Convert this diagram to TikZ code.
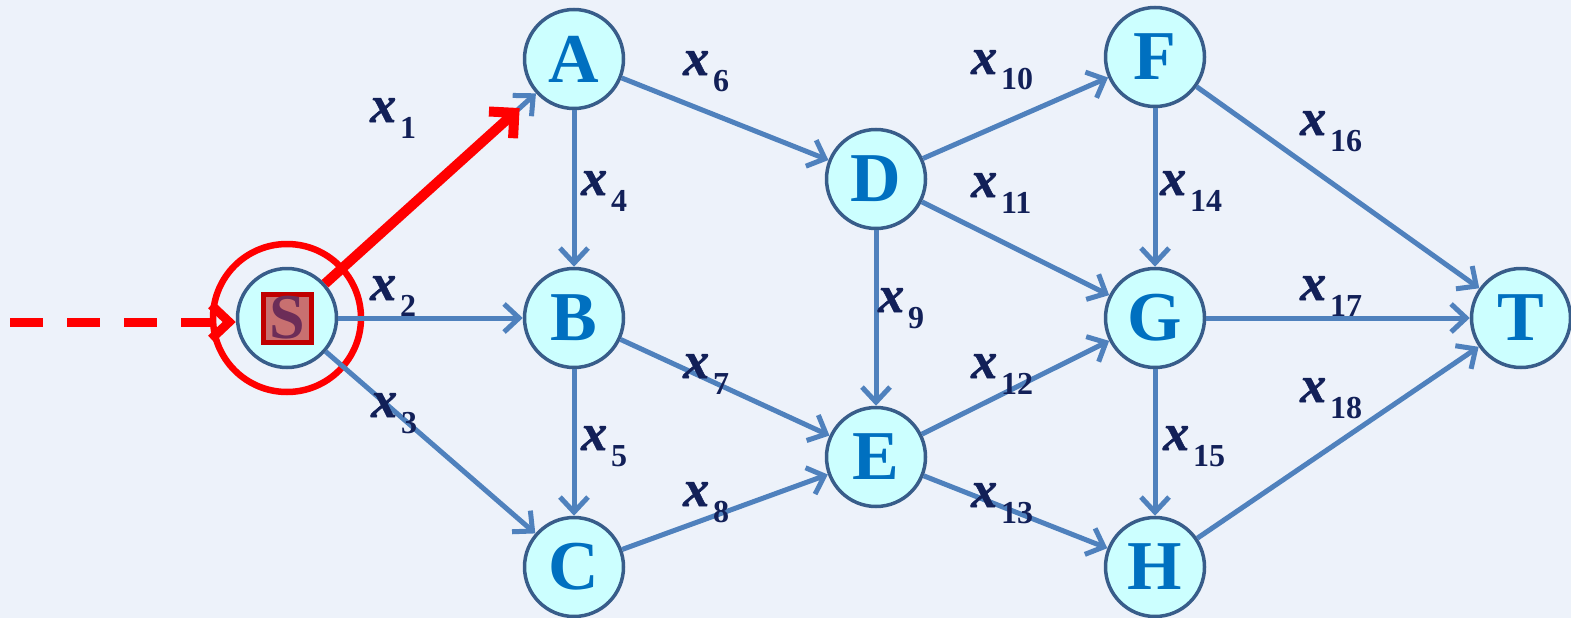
\documentclass[tikz,border=0pt]{standalone}
\usepackage{fontspec}
\setmainfont{Liberation Serif}
\newfontfamily\xfont[BoldItalicFeatures={FakeBold=1.2}]{Liberation Serif}
\usetikzlibrary{arrows.meta}
\definecolor{bg}{RGB}{237,242,250}
\definecolor{nodefill}{RGB}{204,255,255}
\definecolor{nodeline}{RGB}{56,93,138}
\definecolor{edgeblue}{RGB}{79,129,189}
\definecolor{letterblue}{RGB}{0,112,192}
\definecolor{labnavy}{RGB}{18,32,88}
\definecolor{sfill}{RGB}{200,112,112}
\definecolor{sline}{RGB}{192,0,0}
\definecolor{sletter}{RGB}{108,45,88}
\newcommand{\xlab}[1]{{\xfont\fontsize{52}{52}\selectfont\bfseries\itshape x}\hspace{4pt}\raisebox{-16pt}{\fontsize{32}{32}\selectfont\textbf{#1}}}
\tikzset{
  vert/.style={circle, draw=nodeline, line width=3.5pt, fill=nodefill, minimum size=99pt, inner sep=0pt,
    text=letterblue, font=\fontsize{70}{70}\selectfont\bfseries},
  edge/.style={draw=edgeblue, line width=5pt, -{Straight Barb[length=15pt,width=28pt]}},
  redge/.style={draw=red, line width=10pt, -{Straight Barb[length=18pt,width=36pt]}},
  lab/.style={anchor=base west, text=labnavy, inner sep=0pt}
}
\begin{document}
\begin{tikzpicture}[x=1pt,y=-1pt]
\fill[bg] (0,0) rectangle (1571,618);
\useasboundingbox (0,0) rectangle (1571,618);
% vertices
\node[vert] (S) at (287,318) {};
\node[vert] (A) at (574,59) {A};
\node[vert] (B) at (574,318) {B};
\node[vert] (C) at (574,567) {C};
\node[vert] (D) at (876,179) {D};
\node[vert] (E) at (876,457) {E};
\node[vert] (F) at (1155,57) {F};
\node[vert] (G) at (1155,318) {G};
\node[vert] (H) at (1155,567) {H};
\node[vert] (T) at (1521,318) {T};
\node[rectangle, draw=sline, fill=sfill, line width=5pt, minimum size=48pt, inner sep=0pt,
  text=sletter, font=\fontsize{64}{64}\selectfont\bfseries] (Sbox) at (S) {S};
\node[circle, draw=red, line width=6.5pt, minimum size=148pt, inner sep=0pt] (Sring) at (S) {};
% edges
\draw[edge] (S) -- (A);
\draw[edge] (S) -- (B);
\draw[edge] (S) -- (C);
\draw[edge] (A) -- (B);
\draw[edge] (B) -- (C);
\draw[edge] (A) -- (D);
\draw[edge] (B) -- (E);
\draw[edge] (C) -- (E);
\draw[edge] (D) -- (E);
\draw[edge] (D) -- (F);
\draw[edge] (D) -- (G);
\draw[edge] (E) -- (G);
\draw[edge] (E) -- (H);
\draw[edge] (F) -- (G);
\draw[edge] (G) -- (H);
\draw[edge] (F) -- (T);
\draw[edge] (G) -- (T);
\draw[edge] (H) -- (T);
% red highlight
\draw[redge, shorten >=22pt] (S) -- (A);
\coordinate (in) at (10,322);
\draw[red, line width=9pt, dash pattern=on 33pt off 24pt, -{Straight Barb[length=18pt,width=34pt]}] (in) -- (S.west |- in);
% labels
\node[lab] (l1) at (370,122) {\xlab{1}};
\node[lab] (l2) at (370,300) {\xlab{2}};
\node[lab] (l3) at (371,417) {\xlab{3}};
\node[lab] (l4) at (581,195) {\xlab{4}};
\node[lab] (l5) at (581,450) {\xlab{5}};
\node[lab] (l6) at (683,75) {\xlab{6}};
\node[lab] (l7) at (683,378) {\xlab{7}};
\node[lab] (l8) at (683,506) {\xlab{8}};
\node[lab] (l9) at (878,312) {\xlab{9}};
\node[lab] (l10) at (971,74) {\xlab{10}};
\node[lab] (l11) at (971,197) {\xlab{11}};
\node[lab] (l12) at (971,378) {\xlab{12}};
\node[lab] (l13) at (971,507) {\xlab{13}};
\node[lab] (l14) at (1160,195) {\xlab{14}};
\node[lab] (l15) at (1163,450) {\xlab{15}};
\node[lab] (l16) at (1300,135) {\xlab{16}};
\node[lab] (l17) at (1300,300) {\xlab{17}};
\node[lab] (l18) at (1300,402) {\xlab{18}};
\end{tikzpicture}
\end{document}
